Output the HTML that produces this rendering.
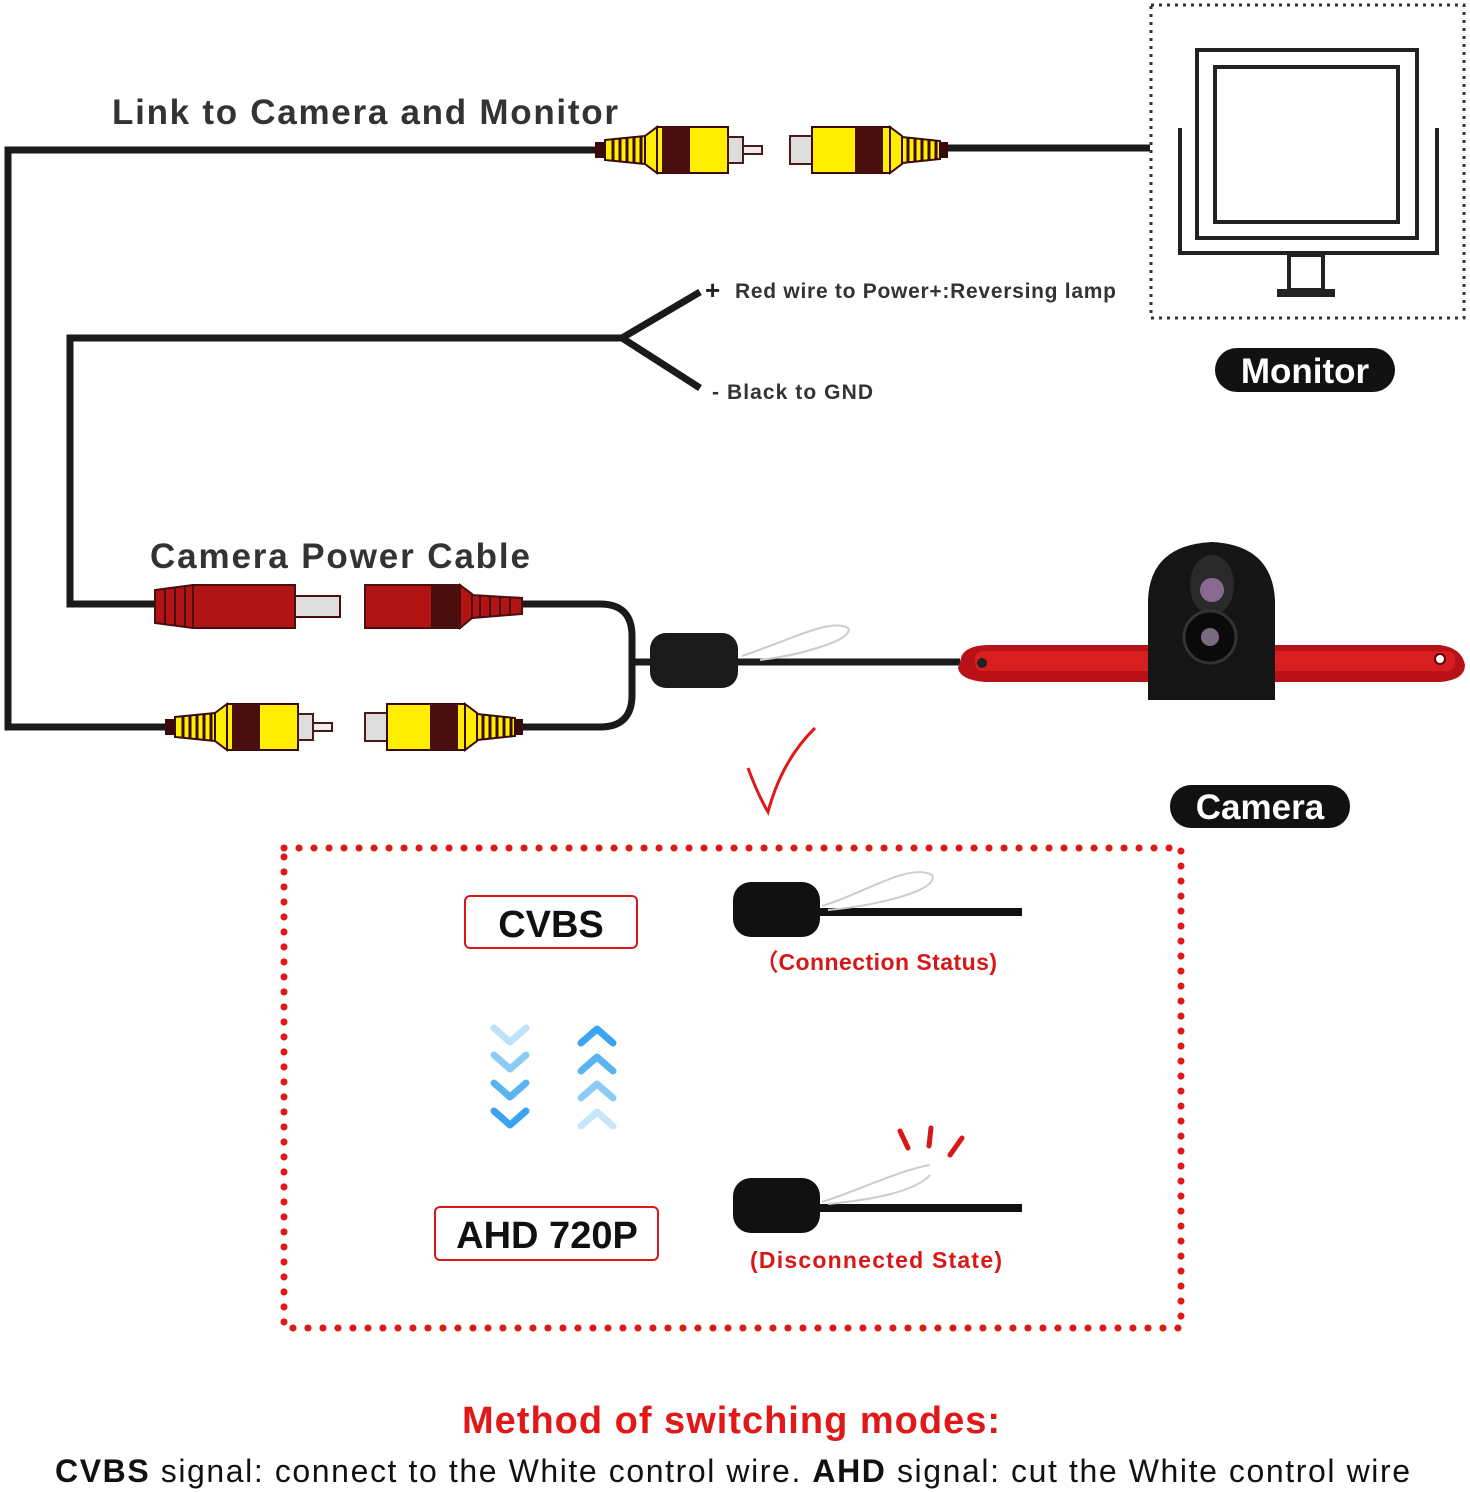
<!DOCTYPE html>
<html><head><meta charset="utf-8"><style>
html,body{margin:0;padding:0;background:#fff;}
svg{display:block;}
text{font-family:"Liberation Sans",Arial,sans-serif;}
</style></head><body>
<svg width="1470" height="1492" viewBox="0 0 1470 1492" xmlns="http://www.w3.org/2000/svg">
<defs>
<g id="male">
  <rect x="0" y="-8" width="10" height="16" fill="#3a0a0a"/>
  <polygon points="10,-10 50,-14 50,14 10,10" fill="#ffee00" stroke="#3a0a0a" stroke-width="2"/>
  <g stroke="#3a0a0a" stroke-width="3"><line x1="18" y1="-11" x2="18" y2="11"/><line x1="25" y1="-12" x2="25" y2="12"/><line x1="32" y1="-12" x2="32" y2="12"/><line x1="39" y1="-13" x2="39" y2="13"/><line x1="46" y1="-13" x2="46" y2="13"/></g>
  <polygon points="50,-14 62,-23 62,23 50,14" fill="#ffee00" stroke="#3a0a0a" stroke-width="2"/>
  <rect x="62" y="-23" width="71" height="46" fill="#ffee00" stroke="#3a0a0a" stroke-width="2"/>
  <rect x="67" y="-23" width="28" height="46" fill="#4a0e0e"/>
  <rect x="133" y="-13" width="15" height="26" fill="#ddd" stroke="#4a1a1a" stroke-width="2"/>
  <rect x="148" y="-4" width="19" height="8" fill="#eee" stroke="#4a1a1a" stroke-width="2"/>
</g>
<g id="female">
  <rect x="0" y="-14" width="22" height="28" fill="#ddd" stroke="#4a1a1a" stroke-width="2"/>
  <rect x="22" y="-23" width="78" height="46" fill="#ffee00" stroke="#3a0a0a" stroke-width="2"/>
  <rect x="65" y="-23" width="28" height="46" fill="#4a0e0e"/>
  <polygon points="100,-23 112,-14 112,14 100,23" fill="#ffee00" stroke="#3a0a0a" stroke-width="2"/>
  <polygon points="112,-13 150,-9 150,9 112,13" fill="#ffee00" stroke="#3a0a0a" stroke-width="2"/>
  <g stroke="#3a0a0a" stroke-width="3"><line x1="118" y1="-12" x2="118" y2="12"/><line x1="125" y1="-12" x2="125" y2="12"/><line x1="132" y1="-11" x2="132" y2="11"/><line x1="139" y1="-10" x2="139" y2="10"/><line x1="146" y1="-10" x2="146" y2="10"/></g>
  <rect x="150" y="-8" width="8" height="16" fill="#3a0a0a"/>
</g>
</defs>

<g fill="none" stroke="#1a1a1a" stroke-width="7">
  <polyline points="600,150 8,150 8,727 170,727"/>
  <line x1="945" y1="148" x2="1150" y2="148"/>
  <polyline points="622,338 70,338 70,604 160,604"/>
  <path d="M520,604 H600 Q632,604 632,636 V695 Q632,727 600,727 H515"/>
  <line x1="632" y1="662" x2="960" y2="662"/>
  <polyline points="700,292 622,338 700,388"/>
</g>
<path d="M742,656 C790,640 830,618 848,628 C855,640 800,655 760,660" fill="none" stroke="#ccc" stroke-width="2"/>

<use href="#male" x="595" y="150"/>
<use href="#female" x="790" y="150"/>
<use href="#male" x="165" y="727"/>
<use href="#female" x="365" y="727"/>

<g stroke="#4a0e0e" stroke-width="2">
  <polygon points="155,590 193,585 193,628 155,623" fill="#b01414"/>
  <g stroke-width="2"><line x1="165" y1="589" x2="165" y2="624"/><line x1="175" y1="588" x2="175" y2="625"/><line x1="185" y1="587" x2="185" y2="626"/></g>
  <rect x="193" y="585" width="102" height="43" fill="#b01414"/>
  <rect x="295" y="596" width="45" height="21" fill="#ddd"/>
  <rect x="365" y="585" width="95" height="43" fill="#b01414"/>
  <rect x="432" y="586" width="28" height="41" fill="#4a0e0e"/>
  <polygon points="460,585 472,594 472,618 460,628" fill="#b01414"/>
  <polygon points="472,595 522,598 522,614 472,618" fill="#b01414"/>
  <g><line x1="480" y1="595" x2="480" y2="617"/><line x1="490" y1="596" x2="490" y2="616"/><line x1="500" y1="597" x2="500" y2="615"/><line x1="510" y1="597" x2="510" y2="615"/></g>
</g>
<rect x="650" y="633" width="88" height="55" rx="16" fill="#1a1a1a"/>

<text x="112" y="124" font-size="35" font-weight="bold" fill="#333" textLength="506" lengthAdjust="spacing">Link to Camera and Monitor</text>
<text x="150" y="568" font-size="35" font-weight="bold" fill="#333" textLength="380" lengthAdjust="spacing">Camera Power Cable</text>
<text x="705" y="299" font-size="26" font-weight="bold" fill="#222">+</text>
<text x="735" y="298" font-size="21" font-weight="bold" fill="#333" textLength="381" lengthAdjust="spacing">Red wire to Power+:Reversing lamp</text>
<text x="712" y="399" font-size="21" font-weight="bold" fill="#333" textLength="161" lengthAdjust="spacing">- Black to GND</text>

<rect x="1151" y="5" width="313" height="313" fill="none" stroke="#333" stroke-width="3" stroke-dasharray="3,5"/>
<g fill="none" stroke="#222" stroke-width="4">
  <rect x="1197" y="50" width="220" height="188"/>
  <rect x="1215" y="67" width="183" height="155"/>
  <polyline points="1180,128 1180,253 1437,253 1437,128"/>
  <rect x="1289" y="255" width="34" height="35"/>
</g>
<rect x="1277" y="289" width="58" height="8" fill="#222"/>
<rect x="1215" y="348" width="180" height="44" rx="22" fill="#111"/>
<text x="1305" y="383" font-size="35" font-weight="bold" fill="#fff" text-anchor="middle">Monitor</text>

<path d="M962,655 Q968,645 990,645 L1440,645 Q1462,648 1465,665 Q1465,680 1440,682 L985,682 Q960,680 958,668 Z" fill="#b81218"/>
<rect x="975" y="651" width="480" height="20" rx="8" fill="#e02222" opacity="0.8"/>
<circle cx="982" cy="663" r="5" fill="#222"/><circle cx="1440" cy="659" r="5" fill="#fff" stroke="#600" stroke-width="2"/>
<path d="M1148,700 L1148,600 Q1150,545 1212,542 Q1272,545 1275,600 L1275,700 Z" fill="#151515"/>
<ellipse cx="1212" cy="585" rx="22" ry="30" fill="#2a2a2a"/>
<circle cx="1212" cy="590" r="12" fill="#8a6a90"/>
<circle cx="1210" cy="637" r="26" fill="#0a0a0a" stroke="#333" stroke-width="3"/>
<circle cx="1210" cy="637" r="9" fill="#7a6a80"/>

<path d="M748,768 Q758,795 768,812 Q782,760 815,728" fill="none" stroke="#e01818" stroke-width="3"/>
<rect x="1170" y="785" width="180" height="43" rx="21" fill="#111"/>
<text x="1260" y="819" font-size="35" font-weight="bold" fill="#fff" text-anchor="middle">Camera</text>

<rect x="284" y="848" width="897" height="480" fill="none" stroke="#e01818" stroke-width="7" stroke-linecap="round" stroke-dasharray="0.1,14.9"/>

<rect x="465" y="896" width="172" height="52" rx="5" fill="#fff" stroke="#d81818" stroke-width="2"/>
<text x="551" y="937" font-size="38" font-weight="bold" fill="#111" text-anchor="middle">CVBS</text>
<rect x="435" y="1207" width="223" height="53" rx="5" fill="#fff" stroke="#d81818" stroke-width="2"/>
<text x="547" y="1248" font-size="38" font-weight="bold" fill="#111" text-anchor="middle">AHD 720P</text>

<line x1="815" y1="912" x2="1022" y2="912" stroke="#111" stroke-width="8"/>
<path d="M822,906 C860,895 910,862 932,875 C940,890 880,905 828,910" fill="none" stroke="#ccc" stroke-width="2"/>
<rect x="733" y="882" width="87" height="55" rx="18" fill="#111"/>
<text x="755" y="970" font-size="23" font-weight="bold" fill="#d81818" textLength="242" lengthAdjust="spacing">（Connection Status)</text>

<line x1="815" y1="1208" x2="1022" y2="1208" stroke="#111" stroke-width="8"/>
<path d="M822,1202 C860,1190 900,1170 930,1165 M930,1175 C915,1192 870,1200 828,1204" fill="none" stroke="#ccc" stroke-width="2"/>
<rect x="733" y="1178" width="87" height="55" rx="18" fill="#111"/>
<g stroke="#d81818" stroke-width="5" stroke-linecap="round"><line x1="900" y1="1131" x2="908" y2="1148"/><line x1="931" y1="1128" x2="929" y2="1146"/><line x1="962" y1="1138" x2="950" y2="1155"/></g>
<text x="750" y="1268" font-size="23" font-weight="bold" fill="#d81818" textLength="252" lengthAdjust="spacing">(Disconnected State)</text>

<g fill="none" stroke-width="7" stroke-linecap="round" stroke-linejoin="round">
  <polyline points="494,1028 510,1042 526,1028" stroke="#bfe2fb"/>
  <polyline points="494,1055 510,1069 526,1055" stroke="#8ccbf6"/>
  <polyline points="494,1083 510,1097 526,1083" stroke="#5ab4f2"/>
  <polyline points="494,1111 510,1125 526,1111" stroke="#3aa4f0"/>
  <polyline points="581,1043 597,1029 613,1043" stroke="#3aa4f0"/>
  <polyline points="581,1071 597,1057 613,1071" stroke="#5ab4f2"/>
  <polyline points="581,1098 597,1084 613,1098" stroke="#8ccbf6"/>
  <polyline points="581,1126 597,1112 613,1126" stroke="#c8e6fb"/>
</g>

<text x="462" y="1433" font-size="38" font-weight="bold" fill="#e01818" textLength="538" lengthAdjust="spacing">Method of switching modes:</text>
<text x="55" y="1482" font-size="32" fill="#111" textLength="1355" lengthAdjust="spacing"><tspan font-weight="bold">CVBS</tspan> signal: connect to the White control wire. <tspan font-weight="bold">AHD</tspan> signal: cut the White control wire</text>
</svg>
</body></html>
